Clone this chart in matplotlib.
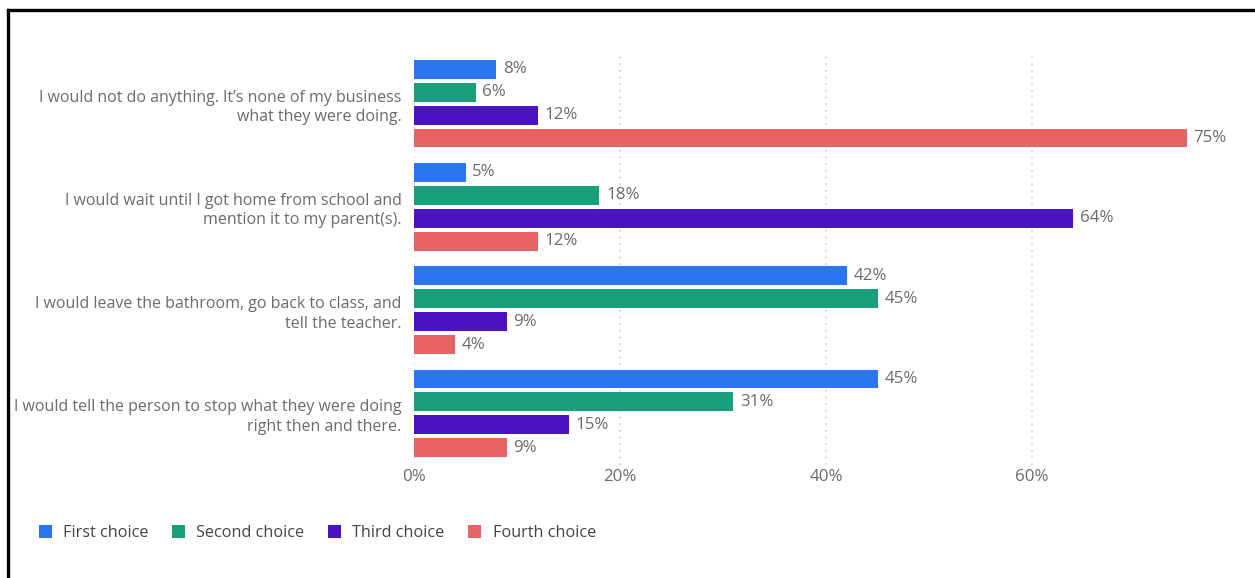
import matplotlib
matplotlib.use("Agg")
import matplotlib.pyplot as plt
from matplotlib.patches import Patch
from matplotlib.lines import Line2D
import numpy as np

categories = [
    "I would not do anything. It\u2019s none of my business\nwhat they were doing.",
    "I would wait until I got home from school and\nmention it to my parent(s).",
    "I would leave the bathroom, go back to class, and\ntell the teacher.",
    "I would tell the person to stop what they were doing\nright then and there.",
]
series_names = ["First choice", "Second choice", "Third choice", "Fourth choice"]
first_choice = [8, 5, 42, 45]
second_choice = [6, 18, 45, 31]
third_choice = [12, 64, 9, 15]
fourth_choice = [75, 12, 4, 9]
x_ticks = [0, 20, 40, 60]
x_tick_labels = ["0%", "20%", "40%", "60%"]

colors = ["#2a76ee", "#1a9f7d", "#4b12c4", "#e86464"]
text_color = "#6b6b6b"
font = "Open Sans"

plt.rcParams["font.family"] = [font, "DejaVu Sans"]

fig = plt.figure(figsize=(12.55, 5.78), dpi=100)
W, H = 1255, 578
ax_left, ax_right = 414, 1238
ax_top, ax_bottom = 52, 465
ax = fig.add_axes([ax_left / W, 1 - ax_bottom / H, (ax_right - ax_left) / W, (ax_bottom - ax_top) / H])

all_series = [first_choice, second_choice, third_choice, fourth_choice]
group_step = 4.5
group_centers = np.arange(len(categories)) * group_step
bar_h = 0.82
for j, (vals, c) in enumerate(zip(all_series, colors)):
    ys = group_centers + (j - 1.5)
    ax.barh(ys, vals, height=bar_h, color=c, zorder=3, linewidth=0)
    for y, v in zip(ys, vals):
        ax.text(v + 0.65, y, f"{v}%", va="center", ha="left", fontsize=12.2,
                color=text_color, zorder=4)

ax.set_xlim(0, 80)
ax.set_ylim(group_centers[-1] + group_step / 2, -group_step / 2)
ax.set_xticks(x_ticks)
ax.set_xticklabels(x_tick_labels, fontsize=12.2, color=text_color)
ax.set_yticks(group_centers)
ax.set_yticklabels(categories, fontsize=11.5, color=text_color, ha="right",
                   linespacing=1.3)
ax.tick_params(axis="y", length=0, pad=9)
ax.tick_params(axis="x", length=0, pad=3)
for s in ax.spines.values():
    s.set_visible(False)
ax.grid(axis="x", color="#cfcfcf", linestyle=(0, (1, 3)), linewidth=1.2, zorder=0)
ax.grid(axis="y", visible=False)

handles = [Patch(facecolor=c, edgecolor="none") for c in colors]
fig.legend(handles, series_names, loc="center left",
           bbox_to_anchor=(24 / W, 1 - 533 / H), ncol=4, frameon=False,
           fontsize=11.7, handlelength=0.8, handleheight=0.8, handletextpad=0.7,
           columnspacing=1.45, labelcolor="#444444")

fig.add_artist(Line2D([8 / W, 8 / W], [0, 1 - 10 / H], color="black", linewidth=2.4,
                      transform=fig.transFigure))
fig.add_artist(Line2D([8 / W, 1], [1 - 10 / H, 1 - 10 / H], color="black", linewidth=2.4,
                      transform=fig.transFigure))

fig.savefig("out.png", dpi=100, facecolor="white")
